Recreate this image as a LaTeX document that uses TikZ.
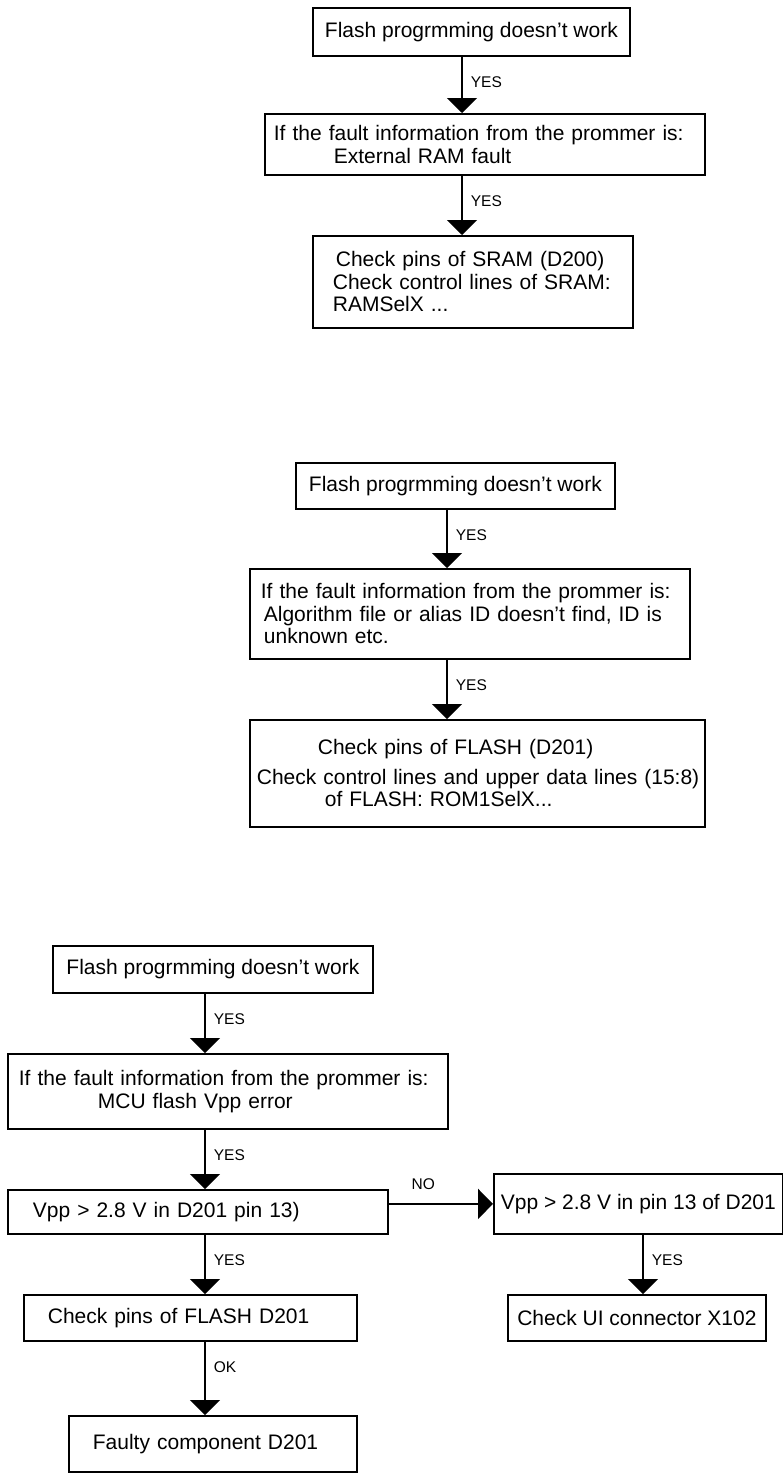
\documentclass[tikz,border=0pt]{standalone}
\usepackage{fontspec}
\setmainfont{Liberation Sans}
\usetikzlibrary{arrows.meta}
\newcommand\fcmain{\fontsize{21}{22.5}\selectfont}
\newcommand\fcsmall{\fontsize{15.5}{17}\selectfont}
\tikzset{
  fcbox/.style={rectangle, draw=black, line width=1.8pt, anchor=north west,
    inner ysep=0pt, align=left, font=\fcmain},
  fcarrow/.style={-{Triangle[width=30pt, length=15pt]}, line width=1.8pt},
  fclabel/.style={font=\fcsmall, inner sep=0pt, anchor=west}
}
\begin{document}
\begin{tikzpicture}[x=1pt, y=-1pt]
  \useasboundingbox (0,0) rectangle (783,1473);
  % spines of the connectors
  \coordinate (s1) at (462,0);
  \coordinate (s2) at (447,0);
  \coordinate (s3) at (205,0);
  \coordinate (s4) at (643,0);
  % chart 1: external RAM
  \node[fcbox, minimum width=317pt, minimum height=48pt] (a1) at (312,7) {Flash progrmming doesn’t work};
  \node[fcbox, text width=422pt, inner xsep=9pt, minimum height=61pt] (b1) at (264,113)
    {If the fault information from the prommer is:\\\hspace*{60pt}External RAM fault};
  \node[fcbox, text width=280pt, inner xsep=20pt, minimum height=92pt] (c1) at (312,235)
    {\hspace*{3pt}Check pins of SRAM (D200)\\Check control lines of SRAM:\\RAMSelX ...};
  % chart 2: algorithm file / ID
  \node[fcbox, minimum width=319pt, minimum height=46pt] (a2) at (295,462) {Flash progrmming doesn’t work};
  \node[fcbox, text width=418pt, inner xsep=11pt, minimum height=90pt] (b2) at (249,568)
    {If the fault information from the prommer is:\\\hspace*{3pt}Algorithm file or alias ID doesn’t find, ID is\\\hspace*{3pt}unknown etc.};
  \node[fcbox, text width=451pt, inner xsep=2pt, minimum height=107pt] (c2) at (249,719)
    {\hspace*{66pt}Check pins of FLASH (D201)\\[7pt]\hspace*{5pt}Check control lines and upper data lines (15:8)\\\hspace*{73pt}of FLASH: ROM1SelX...};
  % chart 3: Vpp error
  \node[fcbox, minimum width=320pt, minimum height=47pt] (a3) at (52,945) {Flash progrmming doesn’t work};
  \node[fcbox, text width=418pt, inner xsep=11pt, minimum height=75pt] (b3) at (7,1053)
    {If the fault information from the prommer is:\\\hspace*{79pt}MCU flash Vpp error};
  \node[fcbox, text width=330pt, inner xsep=25pt, minimum height=44pt] (d3) at (7,1189) {Vpp > 2.8 V in D201 pin 13)};
  \node[fcbox, minimum width=289pt, minimum height=60pt] (e3) at (493,1173) {Vpp > 2.8 V in pin 13 of D201};
  \node[fcbox, minimum width=258pt, minimum height=46pt] (f3) at (507,1294) {Check UI connector X102};
  \node[fcbox, text width=285pt, inner xsep=24pt, minimum height=46pt] (g3) at (23,1294) {Check pins of FLASH D201};
  \node[fcbox, text width=240pt, inner xsep=24pt, minimum height=56pt] (h3) at (68,1415) {Faulty component D201};
  % connectors
  \foreach \src/\dst/\spine/\lbl in {a1/b1/s1/YES, b1/c1/s1/YES, a2/b2/s2/YES, b2/c2/s2/YES,
      a3/b3/s3/YES, b3/d3/s3/YES, d3/g3/s3/YES, g3/h3/s3/OK, e3/f3/s4/YES}
    \draw[fcarrow] (\src.south -| \spine) node[fclabel, xshift=8pt, yshift=-25pt] {\lbl} -- (\dst.north -| \spine);
  \draw[fcarrow] (d3.east |- e3.west) node[fclabel, anchor=south west, xshift=22pt, yshift=13pt] {NO} -- (e3.west);
\end{tikzpicture}
\end{document}
